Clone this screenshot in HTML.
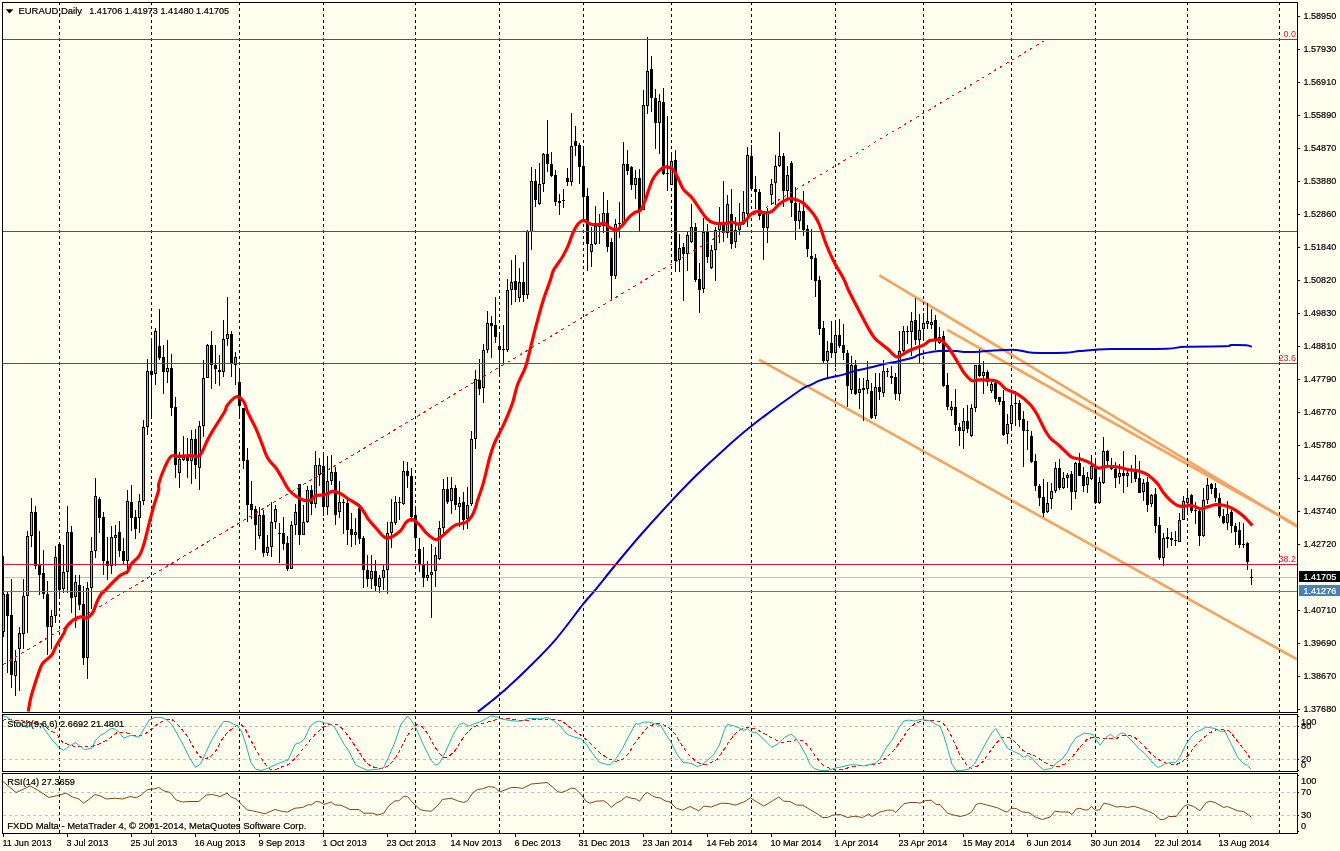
<!DOCTYPE html><html><head><meta charset="utf-8"><title>EURAUD,Daily</title><style>html,body{margin:0;padding:0;background:#FFFFF0;overflow:hidden}svg{display:block}text{font-family:"Liberation Sans",sans-serif;font-size:9.75px;fill:#000;stroke:#000;stroke-width:0.2px}</style></head><body>
<svg width="1340" height="851" viewBox="0 0 1340 851">
<rect width="1340" height="851" fill="#FFFFF0"/>
<defs><clipPath id="cm"><rect x="3" y="3" width="1294" height="709"/></clipPath><clipPath id="cs"><rect x="3" y="715" width="1294" height="56"/></clipPath><clipPath id="cr"><rect x="3" y="774" width="1294" height="59"/></clipPath></defs>
<g stroke="#F4A460" stroke-width="2.7" fill="none" clip-path="url(#cm)">
<line x1="879.4" y1="275.3" x2="1297" y2="526.5"/>
<line x1="947.2" y1="329.9" x2="1297" y2="525.5"/>
<line x1="759.1" y1="359.7" x2="1297" y2="659.4"/>
</g>
<g shape-rendering="crispEdges" stroke="#000" stroke-width="1" stroke-dasharray="3 3">
<line x1="59.5" y1="2" x2="59.5" y2="712"/>
<line x1="59.5" y1="716" x2="59.5" y2="771"/>
<line x1="59.5" y1="776" x2="59.5" y2="833"/>
<line x1="151.5" y1="2" x2="151.5" y2="712"/>
<line x1="151.5" y1="716" x2="151.5" y2="771"/>
<line x1="151.5" y1="776" x2="151.5" y2="833"/>
<line x1="239.5" y1="2" x2="239.5" y2="712"/>
<line x1="239.5" y1="716" x2="239.5" y2="771"/>
<line x1="239.5" y1="776" x2="239.5" y2="833"/>
<line x1="323.5" y1="2" x2="323.5" y2="712"/>
<line x1="323.5" y1="716" x2="323.5" y2="771"/>
<line x1="323.5" y1="776" x2="323.5" y2="833"/>
<line x1="415.5" y1="2" x2="415.5" y2="712"/>
<line x1="415.5" y1="716" x2="415.5" y2="771"/>
<line x1="415.5" y1="776" x2="415.5" y2="833"/>
<line x1="499.5" y1="2" x2="499.5" y2="712"/>
<line x1="499.5" y1="716" x2="499.5" y2="771"/>
<line x1="499.5" y1="776" x2="499.5" y2="833"/>
<line x1="583.5" y1="2" x2="583.5" y2="712"/>
<line x1="583.5" y1="716" x2="583.5" y2="771"/>
<line x1="583.5" y1="776" x2="583.5" y2="833"/>
<line x1="671.5" y1="2" x2="671.5" y2="712"/>
<line x1="671.5" y1="716" x2="671.5" y2="771"/>
<line x1="671.5" y1="776" x2="671.5" y2="833"/>
<line x1="751.5" y1="2" x2="751.5" y2="712"/>
<line x1="751.5" y1="716" x2="751.5" y2="771"/>
<line x1="751.5" y1="776" x2="751.5" y2="833"/>
<line x1="835.5" y1="2" x2="835.5" y2="712"/>
<line x1="835.5" y1="716" x2="835.5" y2="771"/>
<line x1="835.5" y1="776" x2="835.5" y2="833"/>
<line x1="923.5" y1="2" x2="923.5" y2="712"/>
<line x1="923.5" y1="716" x2="923.5" y2="771"/>
<line x1="923.5" y1="776" x2="923.5" y2="833"/>
<line x1="1011.5" y1="2" x2="1011.5" y2="712"/>
<line x1="1011.5" y1="716" x2="1011.5" y2="771"/>
<line x1="1011.5" y1="776" x2="1011.5" y2="833"/>
<line x1="1095.5" y1="2" x2="1095.5" y2="712"/>
<line x1="1095.5" y1="716" x2="1095.5" y2="771"/>
<line x1="1095.5" y1="776" x2="1095.5" y2="833"/>
<line x1="1187.5" y1="2" x2="1187.5" y2="712"/>
<line x1="1187.5" y1="716" x2="1187.5" y2="771"/>
<line x1="1187.5" y1="776" x2="1187.5" y2="833"/>
<line x1="1279.5" y1="2" x2="1279.5" y2="712"/>
<line x1="1279.5" y1="716" x2="1279.5" y2="771"/>
<line x1="1279.5" y1="776" x2="1279.5" y2="833"/>
</g>
<g clip-path="url(#cm)">
<rect x="3" y="577" width="1294" height="1" fill="#C0C0C0" shape-rendering="crispEdges"/>
<g shape-rendering="crispEdges">
<rect x="3" y="556" width="1" height="81" fill="#000"/>
<rect x="2" y="594" width="3" height="38" fill="#000"/>
<rect x="3" y="595" width="1" height="36" fill="#FFA500"/>
<rect x="7" y="592" width="1" height="81" fill="#000"/>
<rect x="6" y="594" width="3" height="22" fill="#000"/>
<rect x="11" y="579" width="1" height="109" fill="#000"/>
<rect x="10" y="615" width="3" height="60" fill="#000"/>
<rect x="15" y="650" width="1" height="46" fill="#000"/>
<rect x="14" y="661" width="3" height="15" fill="#000"/>
<rect x="15" y="662" width="1" height="13" fill="#FFA500"/>
<rect x="19" y="627" width="1" height="64" fill="#000"/>
<rect x="18" y="633" width="3" height="16" fill="#000"/>
<rect x="19" y="634" width="1" height="14" fill="#FFA500"/>
<rect x="23" y="579" width="1" height="70" fill="#000"/>
<rect x="22" y="596" width="3" height="38" fill="#000"/>
<rect x="23" y="597" width="1" height="36" fill="#FFA500"/>
<rect x="27" y="531" width="1" height="102" fill="#000"/>
<rect x="26" y="536" width="3" height="60" fill="#000"/>
<rect x="27" y="537" width="1" height="58" fill="#FFA500"/>
<rect x="31" y="498" width="1" height="49" fill="#000"/>
<rect x="30" y="512" width="3" height="24" fill="#000"/>
<rect x="31" y="513" width="1" height="22" fill="#FFA500"/>
<rect x="35" y="506" width="1" height="63" fill="#000"/>
<rect x="34" y="512" width="3" height="54" fill="#000"/>
<rect x="39" y="531" width="1" height="64" fill="#000"/>
<rect x="38" y="565" width="3" height="10" fill="#000"/>
<rect x="43" y="550" width="1" height="49" fill="#000"/>
<rect x="42" y="573" width="3" height="21" fill="#000"/>
<rect x="47" y="581" width="1" height="74" fill="#000"/>
<rect x="46" y="594" width="3" height="33" fill="#000"/>
<rect x="51" y="610" width="1" height="39" fill="#000"/>
<rect x="50" y="616" width="3" height="11" fill="#000"/>
<rect x="51" y="617" width="1" height="9" fill="#FFA500"/>
<rect x="55" y="546" width="1" height="77" fill="#000"/>
<rect x="54" y="557" width="3" height="59" fill="#000"/>
<rect x="55" y="558" width="1" height="57" fill="#FFA500"/>
<rect x="59" y="542" width="1" height="56" fill="#000"/>
<rect x="58" y="544" width="3" height="46" fill="#000"/>
<rect x="63" y="545" width="1" height="48" fill="#000"/>
<rect x="62" y="572" width="3" height="17" fill="#000"/>
<rect x="63" y="573" width="1" height="15" fill="#FFA500"/>
<rect x="67" y="506" width="1" height="87" fill="#000"/>
<rect x="66" y="532" width="3" height="40" fill="#000"/>
<rect x="67" y="533" width="1" height="38" fill="#FFA500"/>
<rect x="71" y="526" width="1" height="87" fill="#000"/>
<rect x="70" y="532" width="3" height="66" fill="#000"/>
<rect x="75" y="575" width="1" height="53" fill="#000"/>
<rect x="74" y="582" width="3" height="15" fill="#000"/>
<rect x="75" y="583" width="1" height="13" fill="#FFA500"/>
<rect x="79" y="575" width="1" height="35" fill="#000"/>
<rect x="78" y="585" width="3" height="20" fill="#000"/>
<rect x="83" y="586" width="1" height="79" fill="#000"/>
<rect x="82" y="604" width="3" height="54" fill="#000"/>
<rect x="87" y="582" width="1" height="97" fill="#000"/>
<rect x="86" y="588" width="3" height="70" fill="#000"/>
<rect x="87" y="589" width="1" height="68" fill="#FFA500"/>
<rect x="91" y="537" width="1" height="72" fill="#000"/>
<rect x="90" y="551" width="3" height="37" fill="#000"/>
<rect x="91" y="552" width="1" height="35" fill="#FFA500"/>
<rect x="95" y="478" width="1" height="80" fill="#000"/>
<rect x="94" y="496" width="3" height="55" fill="#000"/>
<rect x="95" y="497" width="1" height="53" fill="#FFA500"/>
<rect x="99" y="497" width="1" height="36" fill="#000"/>
<rect x="98" y="499" width="3" height="19" fill="#000"/>
<rect x="103" y="512" width="1" height="63" fill="#000"/>
<rect x="102" y="517" width="3" height="44" fill="#000"/>
<rect x="107" y="537" width="1" height="43" fill="#000"/>
<rect x="106" y="561" width="3" height="5" fill="#000"/>
<rect x="111" y="526" width="1" height="48" fill="#000"/>
<rect x="110" y="537" width="3" height="29" fill="#000"/>
<rect x="111" y="538" width="1" height="27" fill="#FFA500"/>
<rect x="115" y="525" width="1" height="41" fill="#000"/>
<rect x="114" y="535" width="3" height="3" fill="#000"/>
<rect x="115" y="536" width="1" height="1" fill="#FFA500"/>
<rect x="119" y="521" width="1" height="36" fill="#000"/>
<rect x="118" y="532" width="3" height="19" fill="#000"/>
<rect x="123" y="538" width="1" height="26" fill="#000"/>
<rect x="122" y="551" width="3" height="10" fill="#000"/>
<rect x="127" y="490" width="1" height="84" fill="#000"/>
<rect x="126" y="501" width="3" height="60" fill="#000"/>
<rect x="127" y="502" width="1" height="58" fill="#FFA500"/>
<rect x="131" y="485" width="1" height="46" fill="#000"/>
<rect x="130" y="502" width="3" height="16" fill="#000"/>
<rect x="135" y="510" width="1" height="29" fill="#000"/>
<rect x="134" y="517" width="3" height="12" fill="#000"/>
<rect x="139" y="494" width="1" height="39" fill="#000"/>
<rect x="138" y="501" width="3" height="17" fill="#000"/>
<rect x="139" y="502" width="1" height="15" fill="#FFA500"/>
<rect x="143" y="420" width="1" height="85" fill="#000"/>
<rect x="142" y="427" width="3" height="74" fill="#000"/>
<rect x="143" y="428" width="1" height="72" fill="#FFA500"/>
<rect x="147" y="359" width="1" height="76" fill="#000"/>
<rect x="146" y="371" width="3" height="56" fill="#000"/>
<rect x="147" y="372" width="1" height="54" fill="#FFA500"/>
<rect x="151" y="338" width="1" height="81" fill="#000"/>
<rect x="150" y="371" width="3" height="4" fill="#000"/>
<rect x="155" y="328" width="1" height="57" fill="#000"/>
<rect x="154" y="331" width="3" height="43" fill="#000"/>
<rect x="155" y="332" width="1" height="41" fill="#FFA500"/>
<rect x="159" y="309" width="1" height="51" fill="#000"/>
<rect x="158" y="346" width="3" height="12" fill="#000"/>
<rect x="163" y="345" width="1" height="49" fill="#000"/>
<rect x="162" y="357" width="3" height="15" fill="#000"/>
<rect x="167" y="340" width="1" height="43" fill="#000"/>
<rect x="166" y="368" width="3" height="4" fill="#000"/>
<rect x="167" y="369" width="1" height="2" fill="#FFA500"/>
<rect x="171" y="354" width="1" height="62" fill="#000"/>
<rect x="170" y="368" width="3" height="40" fill="#000"/>
<rect x="175" y="397" width="1" height="81" fill="#000"/>
<rect x="174" y="407" width="3" height="58" fill="#000"/>
<rect x="179" y="452" width="1" height="36" fill="#000"/>
<rect x="178" y="459" width="3" height="14" fill="#000"/>
<rect x="179" y="460" width="1" height="12" fill="#FFA500"/>
<rect x="183" y="436" width="1" height="25" fill="#000"/>
<rect x="182" y="457" width="3" height="3" fill="#000"/>
<rect x="183" y="458" width="1" height="1" fill="#FFA500"/>
<rect x="187" y="438" width="1" height="40" fill="#000"/>
<rect x="186" y="455" width="3" height="6" fill="#000"/>
<rect x="191" y="430" width="1" height="54" fill="#000"/>
<rect x="190" y="439" width="3" height="22" fill="#000"/>
<rect x="191" y="440" width="1" height="20" fill="#FFA500"/>
<rect x="195" y="429" width="1" height="50" fill="#000"/>
<rect x="194" y="439" width="3" height="26" fill="#000"/>
<rect x="199" y="421" width="1" height="69" fill="#000"/>
<rect x="198" y="426" width="3" height="42" fill="#000"/>
<rect x="199" y="427" width="1" height="40" fill="#FFA500"/>
<rect x="203" y="360" width="1" height="77" fill="#000"/>
<rect x="202" y="378" width="3" height="48" fill="#000"/>
<rect x="203" y="379" width="1" height="46" fill="#FFA500"/>
<rect x="207" y="344" width="1" height="34" fill="#000"/>
<rect x="206" y="345" width="3" height="33" fill="#000"/>
<rect x="207" y="346" width="1" height="31" fill="#FFA500"/>
<rect x="211" y="331" width="1" height="58" fill="#000"/>
<rect x="210" y="345" width="3" height="20" fill="#000"/>
<rect x="215" y="345" width="1" height="39" fill="#000"/>
<rect x="214" y="365" width="3" height="4" fill="#000"/>
<rect x="219" y="355" width="1" height="31" fill="#000"/>
<rect x="218" y="370" width="3" height="2" fill="#000"/>
<rect x="223" y="320" width="1" height="57" fill="#000"/>
<rect x="222" y="339" width="3" height="33" fill="#000"/>
<rect x="223" y="340" width="1" height="31" fill="#FFA500"/>
<rect x="227" y="297" width="1" height="49" fill="#000"/>
<rect x="226" y="334" width="3" height="5" fill="#000"/>
<rect x="227" y="335" width="1" height="3" fill="#FFA500"/>
<rect x="231" y="331" width="1" height="46" fill="#000"/>
<rect x="230" y="334" width="3" height="30" fill="#000"/>
<rect x="235" y="352" width="1" height="33" fill="#000"/>
<rect x="234" y="357" width="3" height="8" fill="#000"/>
<rect x="235" y="358" width="1" height="6" fill="#FFA500"/>
<rect x="239" y="368" width="1" height="48" fill="#000"/>
<rect x="238" y="382" width="3" height="24" fill="#000"/>
<rect x="243" y="408" width="1" height="61" fill="#000"/>
<rect x="242" y="408" width="3" height="53" fill="#000"/>
<rect x="247" y="448" width="1" height="74" fill="#000"/>
<rect x="246" y="460" width="3" height="45" fill="#000"/>
<rect x="251" y="481" width="1" height="38" fill="#000"/>
<rect x="250" y="504" width="3" height="6" fill="#000"/>
<rect x="255" y="506" width="1" height="44" fill="#000"/>
<rect x="254" y="509" width="3" height="16" fill="#000"/>
<rect x="259" y="507" width="1" height="32" fill="#000"/>
<rect x="258" y="515" width="3" height="21" fill="#000"/>
<rect x="259" y="516" width="1" height="19" fill="#FFA500"/>
<rect x="263" y="510" width="1" height="47" fill="#000"/>
<rect x="262" y="515" width="3" height="38" fill="#000"/>
<rect x="267" y="535" width="1" height="21" fill="#000"/>
<rect x="266" y="547" width="3" height="6" fill="#000"/>
<rect x="267" y="548" width="1" height="4" fill="#FFA500"/>
<rect x="271" y="502" width="1" height="55" fill="#000"/>
<rect x="270" y="522" width="3" height="25" fill="#000"/>
<rect x="271" y="523" width="1" height="23" fill="#FFA500"/>
<rect x="275" y="505" width="1" height="24" fill="#000"/>
<rect x="274" y="509" width="3" height="13" fill="#000"/>
<rect x="275" y="510" width="1" height="11" fill="#FFA500"/>
<rect x="279" y="523" width="1" height="40" fill="#000"/>
<rect x="278" y="533" width="3" height="1" fill="#000"/>
<rect x="283" y="517" width="1" height="33" fill="#000"/>
<rect x="282" y="533" width="3" height="11" fill="#000"/>
<rect x="287" y="536" width="1" height="35" fill="#000"/>
<rect x="286" y="543" width="3" height="26" fill="#000"/>
<rect x="291" y="521" width="1" height="48" fill="#000"/>
<rect x="290" y="525" width="3" height="44" fill="#000"/>
<rect x="291" y="526" width="1" height="42" fill="#FFA500"/>
<rect x="295" y="504" width="1" height="31" fill="#000"/>
<rect x="294" y="512" width="3" height="13" fill="#000"/>
<rect x="295" y="513" width="1" height="11" fill="#FFA500"/>
<rect x="299" y="484" width="1" height="61" fill="#000"/>
<rect x="298" y="484" width="3" height="51" fill="#000"/>
<rect x="303" y="505" width="1" height="30" fill="#000"/>
<rect x="302" y="522" width="3" height="13" fill="#000"/>
<rect x="303" y="523" width="1" height="11" fill="#FFA500"/>
<rect x="307" y="486" width="1" height="37" fill="#000"/>
<rect x="306" y="490" width="3" height="32" fill="#000"/>
<rect x="307" y="491" width="1" height="30" fill="#FFA500"/>
<rect x="311" y="485" width="1" height="30" fill="#000"/>
<rect x="310" y="490" width="3" height="14" fill="#000"/>
<rect x="315" y="451" width="1" height="57" fill="#000"/>
<rect x="314" y="465" width="3" height="39" fill="#000"/>
<rect x="315" y="466" width="1" height="37" fill="#FFA500"/>
<rect x="319" y="458" width="1" height="28" fill="#000"/>
<rect x="318" y="465" width="3" height="10" fill="#000"/>
<rect x="319" y="466" width="1" height="8" fill="#FFA500"/>
<rect x="323" y="453" width="1" height="63" fill="#000"/>
<rect x="322" y="466" width="3" height="41" fill="#000"/>
<rect x="327" y="456" width="1" height="59" fill="#000"/>
<rect x="326" y="481" width="3" height="26" fill="#000"/>
<rect x="327" y="482" width="1" height="24" fill="#FFA500"/>
<rect x="331" y="455" width="1" height="30" fill="#000"/>
<rect x="330" y="472" width="3" height="9" fill="#000"/>
<rect x="331" y="473" width="1" height="7" fill="#FFA500"/>
<rect x="335" y="467" width="1" height="58" fill="#000"/>
<rect x="334" y="472" width="3" height="43" fill="#000"/>
<rect x="339" y="481" width="1" height="37" fill="#000"/>
<rect x="338" y="502" width="3" height="10" fill="#000"/>
<rect x="339" y="503" width="1" height="8" fill="#FFA500"/>
<rect x="343" y="499" width="1" height="35" fill="#000"/>
<rect x="342" y="502" width="3" height="1" fill="#000"/>
<rect x="347" y="500" width="1" height="45" fill="#000"/>
<rect x="346" y="503" width="3" height="27" fill="#000"/>
<rect x="351" y="513" width="1" height="34" fill="#000"/>
<rect x="350" y="529" width="3" height="6" fill="#000"/>
<rect x="355" y="518" width="1" height="27" fill="#000"/>
<rect x="354" y="532" width="3" height="3" fill="#000"/>
<rect x="355" y="533" width="1" height="1" fill="#FFA500"/>
<rect x="359" y="504" width="1" height="40" fill="#000"/>
<rect x="358" y="508" width="3" height="31" fill="#000"/>
<rect x="363" y="536" width="1" height="52" fill="#000"/>
<rect x="362" y="538" width="3" height="32" fill="#000"/>
<rect x="367" y="555" width="1" height="32" fill="#000"/>
<rect x="366" y="570" width="3" height="9" fill="#000"/>
<rect x="371" y="555" width="1" height="34" fill="#000"/>
<rect x="370" y="571" width="3" height="8" fill="#000"/>
<rect x="371" y="572" width="1" height="6" fill="#FFA500"/>
<rect x="375" y="560" width="1" height="31" fill="#000"/>
<rect x="374" y="571" width="3" height="15" fill="#000"/>
<rect x="379" y="575" width="1" height="18" fill="#000"/>
<rect x="378" y="578" width="3" height="9" fill="#000"/>
<rect x="379" y="579" width="1" height="7" fill="#FFA500"/>
<rect x="383" y="565" width="1" height="25" fill="#000"/>
<rect x="382" y="570" width="3" height="8" fill="#000"/>
<rect x="383" y="571" width="1" height="6" fill="#FFA500"/>
<rect x="387" y="522" width="1" height="72" fill="#000"/>
<rect x="386" y="533" width="3" height="37" fill="#000"/>
<rect x="387" y="534" width="1" height="35" fill="#FFA500"/>
<rect x="391" y="499" width="1" height="49" fill="#000"/>
<rect x="390" y="522" width="3" height="11" fill="#000"/>
<rect x="391" y="523" width="1" height="9" fill="#FFA500"/>
<rect x="395" y="496" width="1" height="29" fill="#000"/>
<rect x="394" y="502" width="3" height="21" fill="#000"/>
<rect x="395" y="503" width="1" height="19" fill="#FFA500"/>
<rect x="399" y="497" width="1" height="23" fill="#000"/>
<rect x="398" y="502" width="3" height="1" fill="#000"/>
<rect x="403" y="461" width="1" height="44" fill="#000"/>
<rect x="402" y="471" width="3" height="33" fill="#000"/>
<rect x="403" y="472" width="1" height="31" fill="#FFA500"/>
<rect x="407" y="462" width="1" height="26" fill="#000"/>
<rect x="406" y="471" width="3" height="5" fill="#000"/>
<rect x="411" y="468" width="1" height="54" fill="#000"/>
<rect x="410" y="476" width="3" height="41" fill="#000"/>
<rect x="415" y="507" width="1" height="44" fill="#000"/>
<rect x="414" y="515" width="3" height="23" fill="#000"/>
<rect x="419" y="538" width="1" height="34" fill="#000"/>
<rect x="418" y="549" width="3" height="16" fill="#000"/>
<rect x="423" y="547" width="1" height="40" fill="#000"/>
<rect x="422" y="564" width="3" height="14" fill="#000"/>
<rect x="427" y="561" width="1" height="20" fill="#000"/>
<rect x="426" y="575" width="3" height="3" fill="#000"/>
<rect x="427" y="576" width="1" height="1" fill="#FFA500"/>
<rect x="431" y="544" width="1" height="74" fill="#000"/>
<rect x="430" y="572" width="3" height="3" fill="#000"/>
<rect x="431" y="573" width="1" height="1" fill="#FFA500"/>
<rect x="435" y="547" width="1" height="40" fill="#000"/>
<rect x="434" y="555" width="3" height="16" fill="#000"/>
<rect x="435" y="556" width="1" height="14" fill="#FFA500"/>
<rect x="439" y="521" width="1" height="39" fill="#000"/>
<rect x="438" y="528" width="3" height="31" fill="#000"/>
<rect x="439" y="529" width="1" height="29" fill="#FFA500"/>
<rect x="443" y="479" width="1" height="55" fill="#000"/>
<rect x="442" y="489" width="3" height="39" fill="#000"/>
<rect x="443" y="490" width="1" height="37" fill="#FFA500"/>
<rect x="447" y="477" width="1" height="27" fill="#000"/>
<rect x="446" y="489" width="3" height="13" fill="#000"/>
<rect x="451" y="477" width="1" height="37" fill="#000"/>
<rect x="450" y="488" width="3" height="13" fill="#000"/>
<rect x="451" y="489" width="1" height="11" fill="#FFA500"/>
<rect x="455" y="485" width="1" height="25" fill="#000"/>
<rect x="454" y="488" width="3" height="17" fill="#000"/>
<rect x="459" y="497" width="1" height="30" fill="#000"/>
<rect x="458" y="503" width="3" height="4" fill="#000"/>
<rect x="459" y="504" width="1" height="2" fill="#FFA500"/>
<rect x="463" y="492" width="1" height="38" fill="#000"/>
<rect x="462" y="502" width="3" height="18" fill="#000"/>
<rect x="467" y="487" width="1" height="42" fill="#000"/>
<rect x="466" y="505" width="3" height="14" fill="#000"/>
<rect x="467" y="506" width="1" height="12" fill="#FFA500"/>
<rect x="471" y="431" width="1" height="75" fill="#000"/>
<rect x="470" y="439" width="3" height="65" fill="#000"/>
<rect x="471" y="440" width="1" height="63" fill="#FFA500"/>
<rect x="475" y="370" width="1" height="79" fill="#000"/>
<rect x="474" y="379" width="3" height="60" fill="#000"/>
<rect x="475" y="380" width="1" height="58" fill="#FFA500"/>
<rect x="479" y="359" width="1" height="36" fill="#000"/>
<rect x="478" y="380" width="3" height="9" fill="#000"/>
<rect x="483" y="344" width="1" height="59" fill="#000"/>
<rect x="482" y="350" width="3" height="38" fill="#000"/>
<rect x="483" y="351" width="1" height="36" fill="#FFA500"/>
<rect x="487" y="311" width="1" height="42" fill="#000"/>
<rect x="486" y="323" width="3" height="27" fill="#000"/>
<rect x="487" y="324" width="1" height="25" fill="#FFA500"/>
<rect x="491" y="316" width="1" height="42" fill="#000"/>
<rect x="490" y="323" width="3" height="3" fill="#000"/>
<rect x="495" y="297" width="1" height="46" fill="#000"/>
<rect x="494" y="325" width="3" height="12" fill="#000"/>
<rect x="499" y="333" width="1" height="43" fill="#000"/>
<rect x="498" y="346" width="3" height="4" fill="#000"/>
<rect x="503" y="325" width="1" height="38" fill="#000"/>
<rect x="502" y="349" width="3" height="1" fill="#000"/>
<rect x="507" y="279" width="1" height="73" fill="#000"/>
<rect x="506" y="290" width="3" height="60" fill="#000"/>
<rect x="507" y="291" width="1" height="58" fill="#FFA500"/>
<rect x="511" y="260" width="1" height="45" fill="#000"/>
<rect x="510" y="282" width="3" height="8" fill="#000"/>
<rect x="511" y="283" width="1" height="6" fill="#FFA500"/>
<rect x="515" y="255" width="1" height="47" fill="#000"/>
<rect x="514" y="281" width="3" height="9" fill="#000"/>
<rect x="519" y="268" width="1" height="34" fill="#000"/>
<rect x="518" y="282" width="3" height="16" fill="#000"/>
<rect x="519" y="283" width="1" height="14" fill="#FFA500"/>
<rect x="523" y="262" width="1" height="40" fill="#000"/>
<rect x="522" y="282" width="3" height="13" fill="#000"/>
<rect x="527" y="230" width="1" height="69" fill="#000"/>
<rect x="526" y="231" width="3" height="64" fill="#000"/>
<rect x="527" y="232" width="1" height="62" fill="#FFA500"/>
<rect x="531" y="167" width="1" height="83" fill="#000"/>
<rect x="530" y="181" width="3" height="51" fill="#000"/>
<rect x="531" y="182" width="1" height="49" fill="#FFA500"/>
<rect x="535" y="169" width="1" height="38" fill="#000"/>
<rect x="534" y="181" width="3" height="19" fill="#000"/>
<rect x="539" y="163" width="1" height="42" fill="#000"/>
<rect x="538" y="184" width="3" height="20" fill="#000"/>
<rect x="539" y="185" width="1" height="18" fill="#FFA500"/>
<rect x="543" y="153" width="1" height="39" fill="#000"/>
<rect x="542" y="154" width="3" height="30" fill="#000"/>
<rect x="543" y="155" width="1" height="28" fill="#FFA500"/>
<rect x="547" y="120" width="1" height="52" fill="#000"/>
<rect x="546" y="154" width="3" height="10" fill="#000"/>
<rect x="551" y="152" width="1" height="25" fill="#000"/>
<rect x="550" y="164" width="3" height="12" fill="#000"/>
<rect x="555" y="170" width="1" height="36" fill="#000"/>
<rect x="554" y="175" width="3" height="27" fill="#000"/>
<rect x="559" y="194" width="1" height="21" fill="#000"/>
<rect x="558" y="201" width="3" height="2" fill="#000"/>
<rect x="563" y="189" width="1" height="19" fill="#000"/>
<rect x="562" y="200" width="3" height="1" fill="#000"/>
<rect x="567" y="168" width="1" height="18" fill="#000"/>
<rect x="566" y="178" width="3" height="4" fill="#000"/>
<rect x="571" y="113" width="1" height="73" fill="#000"/>
<rect x="570" y="146" width="3" height="36" fill="#000"/>
<rect x="571" y="147" width="1" height="34" fill="#FFA500"/>
<rect x="575" y="126" width="1" height="30" fill="#000"/>
<rect x="574" y="141" width="3" height="5" fill="#000"/>
<rect x="579" y="143" width="1" height="41" fill="#000"/>
<rect x="578" y="145" width="3" height="22" fill="#000"/>
<rect x="583" y="146" width="1" height="74" fill="#000"/>
<rect x="582" y="166" width="3" height="31" fill="#000"/>
<rect x="587" y="188" width="1" height="83" fill="#000"/>
<rect x="586" y="196" width="3" height="48" fill="#000"/>
<rect x="591" y="227" width="1" height="40" fill="#000"/>
<rect x="590" y="244" width="3" height="8" fill="#000"/>
<rect x="591" y="245" width="1" height="6" fill="#FFA500"/>
<rect x="595" y="206" width="1" height="39" fill="#000"/>
<rect x="594" y="226" width="3" height="18" fill="#000"/>
<rect x="595" y="227" width="1" height="16" fill="#FFA500"/>
<rect x="599" y="214" width="1" height="30" fill="#000"/>
<rect x="598" y="226" width="3" height="1" fill="#000"/>
<rect x="603" y="192" width="1" height="41" fill="#000"/>
<rect x="602" y="213" width="3" height="13" fill="#000"/>
<rect x="603" y="214" width="1" height="11" fill="#FFA500"/>
<rect x="607" y="200" width="1" height="52" fill="#000"/>
<rect x="606" y="213" width="3" height="34" fill="#000"/>
<rect x="611" y="238" width="1" height="61" fill="#000"/>
<rect x="610" y="242" width="3" height="34" fill="#000"/>
<rect x="615" y="219" width="1" height="60" fill="#000"/>
<rect x="614" y="224" width="3" height="52" fill="#000"/>
<rect x="615" y="225" width="1" height="50" fill="#FFA500"/>
<rect x="619" y="202" width="1" height="36" fill="#000"/>
<rect x="618" y="223" width="3" height="1" fill="#000"/>
<rect x="623" y="142" width="1" height="82" fill="#000"/>
<rect x="622" y="164" width="3" height="60" fill="#000"/>
<rect x="623" y="165" width="1" height="58" fill="#FFA500"/>
<rect x="627" y="150" width="1" height="25" fill="#000"/>
<rect x="626" y="164" width="3" height="7" fill="#000"/>
<rect x="631" y="166" width="1" height="24" fill="#000"/>
<rect x="630" y="167" width="3" height="18" fill="#000"/>
<rect x="635" y="170" width="1" height="29" fill="#000"/>
<rect x="634" y="178" width="3" height="7" fill="#000"/>
<rect x="635" y="179" width="1" height="5" fill="#FFA500"/>
<rect x="639" y="169" width="1" height="62" fill="#000"/>
<rect x="638" y="178" width="3" height="32" fill="#000"/>
<rect x="643" y="90" width="1" height="120" fill="#000"/>
<rect x="642" y="105" width="3" height="105" fill="#000"/>
<rect x="643" y="106" width="1" height="103" fill="#FFA500"/>
<rect x="647" y="37" width="1" height="77" fill="#000"/>
<rect x="646" y="71" width="3" height="35" fill="#000"/>
<rect x="647" y="72" width="1" height="33" fill="#FFA500"/>
<rect x="651" y="56" width="1" height="56" fill="#000"/>
<rect x="650" y="69" width="3" height="29" fill="#000"/>
<rect x="655" y="89" width="1" height="60" fill="#000"/>
<rect x="654" y="98" width="3" height="25" fill="#000"/>
<rect x="659" y="94" width="1" height="60" fill="#000"/>
<rect x="658" y="101" width="3" height="22" fill="#000"/>
<rect x="659" y="102" width="1" height="20" fill="#FFA500"/>
<rect x="663" y="88" width="1" height="87" fill="#000"/>
<rect x="662" y="102" width="3" height="72" fill="#000"/>
<rect x="667" y="116" width="1" height="75" fill="#000"/>
<rect x="666" y="173" width="3" height="1" fill="#000"/>
<rect x="671" y="152" width="1" height="33" fill="#000"/>
<rect x="670" y="161" width="3" height="24" fill="#000"/>
<rect x="671" y="162" width="1" height="22" fill="#FFA500"/>
<rect x="675" y="150" width="1" height="122" fill="#000"/>
<rect x="674" y="160" width="3" height="101" fill="#000"/>
<rect x="679" y="234" width="1" height="38" fill="#000"/>
<rect x="678" y="248" width="3" height="12" fill="#000"/>
<rect x="679" y="249" width="1" height="10" fill="#FFA500"/>
<rect x="683" y="243" width="1" height="58" fill="#000"/>
<rect x="682" y="247" width="3" height="7" fill="#000"/>
<rect x="687" y="232" width="1" height="39" fill="#000"/>
<rect x="686" y="235" width="3" height="19" fill="#000"/>
<rect x="687" y="236" width="1" height="17" fill="#FFA500"/>
<rect x="691" y="204" width="1" height="39" fill="#000"/>
<rect x="690" y="227" width="3" height="15" fill="#000"/>
<rect x="691" y="228" width="1" height="13" fill="#FFA500"/>
<rect x="695" y="223" width="1" height="59" fill="#000"/>
<rect x="694" y="227" width="3" height="53" fill="#000"/>
<rect x="699" y="263" width="1" height="50" fill="#000"/>
<rect x="698" y="279" width="3" height="11" fill="#000"/>
<rect x="703" y="218" width="1" height="75" fill="#000"/>
<rect x="702" y="232" width="3" height="57" fill="#000"/>
<rect x="703" y="233" width="1" height="55" fill="#FFA500"/>
<rect x="707" y="224" width="1" height="39" fill="#000"/>
<rect x="706" y="232" width="3" height="25" fill="#000"/>
<rect x="711" y="245" width="1" height="24" fill="#000"/>
<rect x="710" y="250" width="3" height="18" fill="#000"/>
<rect x="711" y="251" width="1" height="16" fill="#FFA500"/>
<rect x="715" y="227" width="1" height="54" fill="#000"/>
<rect x="714" y="230" width="3" height="20" fill="#000"/>
<rect x="715" y="231" width="1" height="18" fill="#FFA500"/>
<rect x="719" y="207" width="1" height="36" fill="#000"/>
<rect x="718" y="223" width="3" height="7" fill="#000"/>
<rect x="719" y="224" width="1" height="5" fill="#FFA500"/>
<rect x="723" y="181" width="1" height="61" fill="#000"/>
<rect x="722" y="223" width="3" height="10" fill="#000"/>
<rect x="727" y="195" width="1" height="43" fill="#000"/>
<rect x="726" y="204" width="3" height="29" fill="#000"/>
<rect x="727" y="205" width="1" height="27" fill="#FFA500"/>
<rect x="731" y="189" width="1" height="60" fill="#000"/>
<rect x="730" y="214" width="3" height="30" fill="#000"/>
<rect x="735" y="217" width="1" height="31" fill="#000"/>
<rect x="734" y="230" width="3" height="12" fill="#000"/>
<rect x="735" y="231" width="1" height="10" fill="#FFA500"/>
<rect x="739" y="203" width="1" height="32" fill="#000"/>
<rect x="738" y="223" width="3" height="7" fill="#000"/>
<rect x="739" y="224" width="1" height="5" fill="#FFA500"/>
<rect x="743" y="191" width="1" height="34" fill="#000"/>
<rect x="742" y="212" width="3" height="12" fill="#000"/>
<rect x="743" y="213" width="1" height="10" fill="#FFA500"/>
<rect x="747" y="147" width="1" height="80" fill="#000"/>
<rect x="746" y="155" width="3" height="59" fill="#000"/>
<rect x="747" y="156" width="1" height="57" fill="#FFA500"/>
<rect x="751" y="145" width="1" height="45" fill="#000"/>
<rect x="750" y="156" width="3" height="33" fill="#000"/>
<rect x="755" y="176" width="1" height="33" fill="#000"/>
<rect x="754" y="189" width="3" height="3" fill="#000"/>
<rect x="759" y="189" width="1" height="31" fill="#000"/>
<rect x="758" y="192" width="3" height="24" fill="#000"/>
<rect x="763" y="211" width="1" height="49" fill="#000"/>
<rect x="762" y="211" width="3" height="17" fill="#000"/>
<rect x="767" y="208" width="1" height="35" fill="#000"/>
<rect x="766" y="212" width="3" height="16" fill="#000"/>
<rect x="767" y="213" width="1" height="14" fill="#FFA500"/>
<rect x="771" y="179" width="1" height="26" fill="#000"/>
<rect x="770" y="184" width="3" height="11" fill="#000"/>
<rect x="771" y="185" width="1" height="9" fill="#FFA500"/>
<rect x="775" y="155" width="1" height="50" fill="#000"/>
<rect x="774" y="166" width="3" height="17" fill="#000"/>
<rect x="775" y="167" width="1" height="15" fill="#FFA500"/>
<rect x="779" y="132" width="1" height="35" fill="#000"/>
<rect x="778" y="156" width="3" height="10" fill="#000"/>
<rect x="779" y="157" width="1" height="8" fill="#FFA500"/>
<rect x="783" y="153" width="1" height="54" fill="#000"/>
<rect x="782" y="156" width="3" height="35" fill="#000"/>
<rect x="787" y="166" width="1" height="33" fill="#000"/>
<rect x="786" y="175" width="3" height="16" fill="#000"/>
<rect x="787" y="176" width="1" height="14" fill="#FFA500"/>
<rect x="791" y="161" width="1" height="56" fill="#000"/>
<rect x="790" y="163" width="3" height="40" fill="#000"/>
<rect x="795" y="187" width="1" height="53" fill="#000"/>
<rect x="794" y="203" width="3" height="18" fill="#000"/>
<rect x="799" y="203" width="1" height="26" fill="#000"/>
<rect x="798" y="211" width="3" height="10" fill="#000"/>
<rect x="799" y="212" width="1" height="8" fill="#FFA500"/>
<rect x="803" y="191" width="1" height="45" fill="#000"/>
<rect x="802" y="211" width="3" height="19" fill="#000"/>
<rect x="807" y="225" width="1" height="32" fill="#000"/>
<rect x="806" y="229" width="3" height="20" fill="#000"/>
<rect x="811" y="229" width="1" height="51" fill="#000"/>
<rect x="810" y="256" width="3" height="3" fill="#000"/>
<rect x="815" y="254" width="1" height="43" fill="#000"/>
<rect x="814" y="258" width="3" height="23" fill="#000"/>
<rect x="819" y="276" width="1" height="59" fill="#000"/>
<rect x="818" y="280" width="3" height="49" fill="#000"/>
<rect x="823" y="321" width="1" height="42" fill="#000"/>
<rect x="822" y="328" width="3" height="33" fill="#000"/>
<rect x="827" y="341" width="1" height="37" fill="#000"/>
<rect x="826" y="351" width="3" height="10" fill="#000"/>
<rect x="827" y="352" width="1" height="8" fill="#FFA500"/>
<rect x="831" y="321" width="1" height="37" fill="#000"/>
<rect x="830" y="343" width="3" height="10" fill="#000"/>
<rect x="835" y="320" width="1" height="47" fill="#000"/>
<rect x="834" y="335" width="3" height="18" fill="#000"/>
<rect x="835" y="336" width="1" height="16" fill="#FFA500"/>
<rect x="839" y="319" width="1" height="29" fill="#000"/>
<rect x="838" y="335" width="3" height="11" fill="#000"/>
<rect x="843" y="324" width="1" height="36" fill="#000"/>
<rect x="842" y="345" width="3" height="8" fill="#000"/>
<rect x="847" y="350" width="1" height="57" fill="#000"/>
<rect x="846" y="353" width="3" height="33" fill="#000"/>
<rect x="851" y="356" width="1" height="38" fill="#000"/>
<rect x="850" y="365" width="3" height="25" fill="#000"/>
<rect x="851" y="366" width="1" height="23" fill="#FFA500"/>
<rect x="855" y="360" width="1" height="35" fill="#000"/>
<rect x="854" y="365" width="3" height="29" fill="#000"/>
<rect x="859" y="378" width="1" height="31" fill="#000"/>
<rect x="858" y="389" width="3" height="4" fill="#000"/>
<rect x="859" y="390" width="1" height="2" fill="#FFA500"/>
<rect x="863" y="378" width="1" height="43" fill="#000"/>
<rect x="862" y="388" width="3" height="2" fill="#000"/>
<rect x="867" y="361" width="1" height="33" fill="#000"/>
<rect x="866" y="380" width="3" height="9" fill="#000"/>
<rect x="867" y="381" width="1" height="7" fill="#FFA500"/>
<rect x="871" y="383" width="1" height="36" fill="#000"/>
<rect x="870" y="391" width="3" height="27" fill="#000"/>
<rect x="875" y="373" width="1" height="46" fill="#000"/>
<rect x="874" y="387" width="3" height="29" fill="#000"/>
<rect x="875" y="388" width="1" height="27" fill="#FFA500"/>
<rect x="879" y="373" width="1" height="27" fill="#000"/>
<rect x="878" y="387" width="3" height="5" fill="#000"/>
<rect x="883" y="360" width="1" height="37" fill="#000"/>
<rect x="882" y="371" width="3" height="22" fill="#000"/>
<rect x="883" y="372" width="1" height="20" fill="#FFA500"/>
<rect x="887" y="368" width="1" height="9" fill="#000"/>
<rect x="886" y="371" width="3" height="1" fill="#000"/>
<rect x="891" y="366" width="1" height="18" fill="#000"/>
<rect x="890" y="376" width="3" height="2" fill="#000"/>
<rect x="895" y="373" width="1" height="27" fill="#000"/>
<rect x="894" y="377" width="3" height="17" fill="#000"/>
<rect x="899" y="331" width="1" height="70" fill="#000"/>
<rect x="898" y="351" width="3" height="43" fill="#000"/>
<rect x="899" y="352" width="1" height="41" fill="#FFA500"/>
<rect x="903" y="326" width="1" height="26" fill="#000"/>
<rect x="902" y="331" width="3" height="20" fill="#000"/>
<rect x="903" y="332" width="1" height="18" fill="#FFA500"/>
<rect x="907" y="326" width="1" height="18" fill="#000"/>
<rect x="906" y="331" width="3" height="1" fill="#000"/>
<rect x="911" y="312" width="1" height="44" fill="#000"/>
<rect x="910" y="321" width="3" height="11" fill="#000"/>
<rect x="911" y="322" width="1" height="9" fill="#FFA500"/>
<rect x="915" y="298" width="1" height="47" fill="#000"/>
<rect x="914" y="320" width="3" height="20" fill="#000"/>
<rect x="919" y="314" width="1" height="50" fill="#000"/>
<rect x="918" y="330" width="3" height="10" fill="#000"/>
<rect x="919" y="331" width="1" height="8" fill="#FFA500"/>
<rect x="923" y="313" width="1" height="27" fill="#000"/>
<rect x="922" y="323" width="3" height="6" fill="#000"/>
<rect x="923" y="324" width="1" height="4" fill="#FFA500"/>
<rect x="927" y="303" width="1" height="26" fill="#000"/>
<rect x="926" y="321" width="3" height="3" fill="#000"/>
<rect x="927" y="322" width="1" height="1" fill="#FFA500"/>
<rect x="931" y="309" width="1" height="20" fill="#000"/>
<rect x="930" y="322" width="3" height="3" fill="#000"/>
<rect x="931" y="323" width="1" height="1" fill="#FFA500"/>
<rect x="935" y="315" width="1" height="35" fill="#000"/>
<rect x="934" y="320" width="3" height="19" fill="#000"/>
<rect x="939" y="327" width="1" height="17" fill="#000"/>
<rect x="938" y="337" width="3" height="6" fill="#000"/>
<rect x="939" y="338" width="1" height="4" fill="#FFA500"/>
<rect x="943" y="331" width="1" height="56" fill="#000"/>
<rect x="942" y="336" width="3" height="50" fill="#000"/>
<rect x="947" y="373" width="1" height="37" fill="#000"/>
<rect x="946" y="385" width="3" height="22" fill="#000"/>
<rect x="951" y="401" width="1" height="15" fill="#000"/>
<rect x="950" y="407" width="3" height="3" fill="#000"/>
<rect x="951" y="408" width="1" height="1" fill="#FFA500"/>
<rect x="955" y="389" width="1" height="42" fill="#000"/>
<rect x="954" y="407" width="3" height="18" fill="#000"/>
<rect x="959" y="423" width="1" height="23" fill="#000"/>
<rect x="958" y="427" width="3" height="4" fill="#000"/>
<rect x="963" y="408" width="1" height="41" fill="#000"/>
<rect x="962" y="421" width="3" height="10" fill="#000"/>
<rect x="963" y="422" width="1" height="8" fill="#FFA500"/>
<rect x="967" y="405" width="1" height="28" fill="#000"/>
<rect x="966" y="421" width="3" height="8" fill="#000"/>
<rect x="971" y="404" width="1" height="33" fill="#000"/>
<rect x="970" y="408" width="3" height="28" fill="#000"/>
<rect x="971" y="409" width="1" height="26" fill="#FFA500"/>
<rect x="975" y="365" width="1" height="47" fill="#000"/>
<rect x="974" y="365" width="3" height="43" fill="#000"/>
<rect x="975" y="366" width="1" height="41" fill="#FFA500"/>
<rect x="979" y="349" width="1" height="28" fill="#000"/>
<rect x="978" y="365" width="3" height="11" fill="#000"/>
<rect x="983" y="361" width="1" height="33" fill="#000"/>
<rect x="982" y="372" width="3" height="4" fill="#000"/>
<rect x="983" y="373" width="1" height="2" fill="#FFA500"/>
<rect x="987" y="370" width="1" height="16" fill="#000"/>
<rect x="986" y="372" width="3" height="10" fill="#000"/>
<rect x="991" y="382" width="1" height="11" fill="#000"/>
<rect x="990" y="384" width="3" height="7" fill="#000"/>
<rect x="991" y="385" width="1" height="5" fill="#FFA500"/>
<rect x="995" y="382" width="1" height="20" fill="#000"/>
<rect x="994" y="383" width="3" height="16" fill="#000"/>
<rect x="999" y="397" width="1" height="8" fill="#000"/>
<rect x="998" y="397" width="3" height="5" fill="#000"/>
<rect x="1003" y="390" width="1" height="46" fill="#000"/>
<rect x="1002" y="401" width="3" height="34" fill="#000"/>
<rect x="1007" y="414" width="1" height="30" fill="#000"/>
<rect x="1006" y="424" width="3" height="10" fill="#000"/>
<rect x="1007" y="425" width="1" height="8" fill="#FFA500"/>
<rect x="1011" y="391" width="1" height="40" fill="#000"/>
<rect x="1010" y="405" width="3" height="19" fill="#000"/>
<rect x="1011" y="406" width="1" height="17" fill="#FFA500"/>
<rect x="1015" y="391" width="1" height="35" fill="#000"/>
<rect x="1014" y="403" width="3" height="1" fill="#000"/>
<rect x="1019" y="400" width="1" height="27" fill="#000"/>
<rect x="1018" y="403" width="3" height="17" fill="#000"/>
<rect x="1023" y="411" width="1" height="56" fill="#000"/>
<rect x="1022" y="419" width="3" height="12" fill="#000"/>
<rect x="1027" y="421" width="1" height="29" fill="#000"/>
<rect x="1026" y="430" width="3" height="1" fill="#000"/>
<rect x="1031" y="431" width="1" height="32" fill="#000"/>
<rect x="1030" y="436" width="3" height="26" fill="#000"/>
<rect x="1035" y="454" width="1" height="37" fill="#000"/>
<rect x="1034" y="461" width="3" height="25" fill="#000"/>
<rect x="1039" y="484" width="1" height="22" fill="#000"/>
<rect x="1038" y="486" width="3" height="12" fill="#000"/>
<rect x="1043" y="479" width="1" height="38" fill="#000"/>
<rect x="1042" y="497" width="3" height="16" fill="#000"/>
<rect x="1047" y="482" width="1" height="31" fill="#000"/>
<rect x="1046" y="503" width="3" height="9" fill="#000"/>
<rect x="1047" y="504" width="1" height="7" fill="#FFA500"/>
<rect x="1051" y="483" width="1" height="26" fill="#000"/>
<rect x="1050" y="491" width="3" height="8" fill="#000"/>
<rect x="1051" y="492" width="1" height="6" fill="#FFA500"/>
<rect x="1055" y="462" width="1" height="31" fill="#000"/>
<rect x="1054" y="468" width="3" height="23" fill="#000"/>
<rect x="1055" y="469" width="1" height="21" fill="#FFA500"/>
<rect x="1059" y="459" width="1" height="31" fill="#000"/>
<rect x="1058" y="468" width="3" height="20" fill="#000"/>
<rect x="1063" y="472" width="1" height="17" fill="#000"/>
<rect x="1062" y="478" width="3" height="10" fill="#000"/>
<rect x="1063" y="479" width="1" height="8" fill="#FFA500"/>
<rect x="1067" y="473" width="1" height="15" fill="#000"/>
<rect x="1066" y="475" width="3" height="3" fill="#000"/>
<rect x="1067" y="476" width="1" height="1" fill="#FFA500"/>
<rect x="1071" y="471" width="1" height="39" fill="#000"/>
<rect x="1070" y="474" width="3" height="18" fill="#000"/>
<rect x="1075" y="462" width="1" height="37" fill="#000"/>
<rect x="1074" y="463" width="3" height="29" fill="#000"/>
<rect x="1075" y="464" width="1" height="27" fill="#FFA500"/>
<rect x="1079" y="453" width="1" height="23" fill="#000"/>
<rect x="1078" y="463" width="3" height="13" fill="#000"/>
<rect x="1083" y="467" width="1" height="25" fill="#000"/>
<rect x="1082" y="475" width="3" height="11" fill="#000"/>
<rect x="1087" y="472" width="1" height="21" fill="#000"/>
<rect x="1086" y="477" width="3" height="8" fill="#000"/>
<rect x="1087" y="478" width="1" height="6" fill="#FFA500"/>
<rect x="1091" y="455" width="1" height="25" fill="#000"/>
<rect x="1090" y="466" width="3" height="13" fill="#000"/>
<rect x="1091" y="467" width="1" height="11" fill="#FFA500"/>
<rect x="1095" y="458" width="1" height="46" fill="#000"/>
<rect x="1094" y="468" width="3" height="35" fill="#000"/>
<rect x="1099" y="477" width="1" height="27" fill="#000"/>
<rect x="1098" y="482" width="3" height="21" fill="#000"/>
<rect x="1099" y="483" width="1" height="19" fill="#FFA500"/>
<rect x="1103" y="437" width="1" height="47" fill="#000"/>
<rect x="1102" y="451" width="3" height="32" fill="#000"/>
<rect x="1103" y="452" width="1" height="30" fill="#FFA500"/>
<rect x="1107" y="450" width="1" height="15" fill="#000"/>
<rect x="1106" y="451" width="3" height="10" fill="#000"/>
<rect x="1111" y="458" width="1" height="12" fill="#000"/>
<rect x="1110" y="466" width="3" height="3" fill="#000"/>
<rect x="1115" y="462" width="1" height="26" fill="#000"/>
<rect x="1114" y="469" width="3" height="9" fill="#000"/>
<rect x="1119" y="464" width="1" height="20" fill="#000"/>
<rect x="1118" y="473" width="3" height="4" fill="#000"/>
<rect x="1119" y="474" width="1" height="2" fill="#FFA500"/>
<rect x="1123" y="451" width="1" height="42" fill="#000"/>
<rect x="1122" y="473" width="3" height="3" fill="#000"/>
<rect x="1127" y="469" width="1" height="18" fill="#000"/>
<rect x="1126" y="473" width="3" height="3" fill="#000"/>
<rect x="1127" y="474" width="1" height="1" fill="#FFA500"/>
<rect x="1131" y="465" width="1" height="18" fill="#000"/>
<rect x="1130" y="470" width="3" height="1" fill="#000"/>
<rect x="1135" y="455" width="1" height="27" fill="#000"/>
<rect x="1134" y="470" width="3" height="9" fill="#000"/>
<rect x="1139" y="461" width="1" height="32" fill="#000"/>
<rect x="1138" y="478" width="3" height="15" fill="#000"/>
<rect x="1143" y="479" width="1" height="22" fill="#000"/>
<rect x="1142" y="483" width="3" height="9" fill="#000"/>
<rect x="1143" y="484" width="1" height="7" fill="#FFA500"/>
<rect x="1147" y="477" width="1" height="35" fill="#000"/>
<rect x="1146" y="482" width="3" height="23" fill="#000"/>
<rect x="1151" y="494" width="1" height="13" fill="#000"/>
<rect x="1150" y="495" width="3" height="9" fill="#000"/>
<rect x="1151" y="496" width="1" height="7" fill="#FFA500"/>
<rect x="1155" y="488" width="1" height="45" fill="#000"/>
<rect x="1154" y="494" width="3" height="32" fill="#000"/>
<rect x="1159" y="517" width="1" height="43" fill="#000"/>
<rect x="1158" y="525" width="3" height="33" fill="#000"/>
<rect x="1163" y="533" width="1" height="33" fill="#000"/>
<rect x="1162" y="538" width="3" height="20" fill="#000"/>
<rect x="1163" y="539" width="1" height="18" fill="#FFA500"/>
<rect x="1167" y="528" width="1" height="20" fill="#000"/>
<rect x="1166" y="537" width="3" height="2" fill="#000"/>
<rect x="1171" y="532" width="1" height="14" fill="#000"/>
<rect x="1170" y="538" width="3" height="2" fill="#000"/>
<rect x="1175" y="531" width="1" height="15" fill="#000"/>
<rect x="1174" y="540" width="3" height="1" fill="#000"/>
<rect x="1179" y="513" width="1" height="29" fill="#000"/>
<rect x="1178" y="520" width="3" height="22" fill="#000"/>
<rect x="1179" y="521" width="1" height="20" fill="#FFA500"/>
<rect x="1183" y="496" width="1" height="24" fill="#000"/>
<rect x="1182" y="501" width="3" height="19" fill="#000"/>
<rect x="1183" y="502" width="1" height="17" fill="#FFA500"/>
<rect x="1187" y="489" width="1" height="25" fill="#000"/>
<rect x="1186" y="498" width="3" height="5" fill="#000"/>
<rect x="1187" y="499" width="1" height="3" fill="#FFA500"/>
<rect x="1191" y="494" width="1" height="19" fill="#000"/>
<rect x="1190" y="495" width="3" height="16" fill="#000"/>
<rect x="1195" y="502" width="1" height="22" fill="#000"/>
<rect x="1194" y="510" width="3" height="1" fill="#000"/>
<rect x="1199" y="507" width="1" height="39" fill="#000"/>
<rect x="1198" y="511" width="3" height="25" fill="#000"/>
<rect x="1203" y="488" width="1" height="49" fill="#000"/>
<rect x="1202" y="500" width="3" height="36" fill="#000"/>
<rect x="1203" y="501" width="1" height="34" fill="#FFA500"/>
<rect x="1207" y="478" width="1" height="26" fill="#000"/>
<rect x="1206" y="485" width="3" height="15" fill="#000"/>
<rect x="1207" y="486" width="1" height="13" fill="#FFA500"/>
<rect x="1211" y="483" width="1" height="11" fill="#000"/>
<rect x="1210" y="484" width="3" height="5" fill="#000"/>
<rect x="1215" y="483" width="1" height="19" fill="#000"/>
<rect x="1214" y="488" width="3" height="10" fill="#000"/>
<rect x="1219" y="493" width="1" height="25" fill="#000"/>
<rect x="1218" y="498" width="3" height="18" fill="#000"/>
<rect x="1223" y="509" width="1" height="15" fill="#000"/>
<rect x="1222" y="516" width="3" height="7" fill="#000"/>
<rect x="1227" y="501" width="1" height="29" fill="#000"/>
<rect x="1226" y="514" width="3" height="9" fill="#000"/>
<rect x="1227" y="515" width="1" height="7" fill="#FFA500"/>
<rect x="1231" y="510" width="1" height="23" fill="#000"/>
<rect x="1230" y="512" width="3" height="14" fill="#000"/>
<rect x="1235" y="523" width="1" height="22" fill="#000"/>
<rect x="1234" y="526" width="3" height="6" fill="#000"/>
<rect x="1239" y="522" width="1" height="26" fill="#000"/>
<rect x="1238" y="530" width="3" height="15" fill="#000"/>
<rect x="1243" y="523" width="1" height="25" fill="#000"/>
<rect x="1242" y="544" width="3" height="1" fill="#000"/>
<rect x="1247" y="542" width="1" height="28" fill="#000"/>
<rect x="1246" y="543" width="3" height="19" fill="#000"/>
<rect x="1251" y="569" width="1" height="16" fill="#000"/>
<rect x="1250" y="577" width="3" height="1" fill="#000"/>
</g>
<path fill="none" stroke="#0000CD" stroke-width="2" stroke-linejoin="round" stroke-linecap="butt" d="M477.8,711.8C481.6,708.8 492.0,701.2 500.4,693.8C508.9,686.5 519.3,676.8 528.5,667.7C537.7,658.6 546.7,649.9 555.8,639.3C564.9,628.7 576.6,612.3 583.1,604.2C589.6,596.0 589.2,597.2 594.8,590.5C600.3,583.8 608.4,573.4 616.2,564.0C624.0,554.6 632.3,544.5 641.5,534.0C650.8,523.5 662.5,510.6 671.6,500.9C680.7,491.1 687.5,484.0 696.1,475.5C704.8,467.1 714.2,458.4 723.4,450.2C732.6,441.9 738.7,436.0 751.5,426.0C764.2,416.0 790.2,397.1 800.0,390.3C809.8,383.5 807.2,386.7 810.4,385.1C813.7,383.5 816.2,381.8 819.4,380.6C822.6,379.4 825.9,378.6 829.9,377.6C833.8,376.6 839.1,375.7 843.3,374.6C847.5,373.5 850.5,372.1 855.2,370.9C860.0,369.7 866.9,368.3 871.6,367.2C876.4,366.0 879.1,365.2 883.6,364.2C888.1,363.2 893.5,362.3 898.5,361.2C903.5,360.1 910.0,358.6 913.4,357.5C916.9,356.3 915.9,355.5 919.4,354.5C922.9,353.5 930.1,352.1 934.3,351.5C938.6,350.9 941.0,350.8 944.8,350.7C948.5,350.7 953.5,350.8 956.7,351.0C960.0,351.2 960.4,351.8 964.2,351.9C967.9,352.1 974.9,352.0 979.1,351.8C983.3,351.6 983.4,351.1 989.6,350.7C995.7,350.4 1008.7,349.5 1015.8,349.9C1023.0,350.2 1024.2,352.2 1032.5,352.7C1040.9,353.2 1058.0,353.0 1066.0,352.7C1073.9,352.4 1072.7,351.6 1080.3,351.0C1087.9,350.4 1097.0,349.5 1111.3,349.1C1125.7,348.7 1153.9,349.1 1166.3,348.7C1178.6,348.3 1175.4,347.1 1185.4,346.7C1195.3,346.3 1218.4,346.5 1226.0,346.3C1233.5,346.0 1227.4,345.2 1230.7,345.1C1234.1,344.9 1242.8,345.0 1246.3,345.3C1249.8,345.6 1250.8,346.5 1251.8,346.7"/>
<path fill="none" stroke="#FF0000" stroke-width="3.2" stroke-linejoin="round" stroke-linecap="butt" d="M28.2,711.6C28.6,709.2 29.8,701.9 30.9,697.3C32.0,692.7 33.6,687.9 34.9,683.9C36.2,679.8 37.3,676.4 38.5,673.1C39.7,669.8 40.7,666.4 42.1,664.2C43.4,661.9 44.9,661.3 46.6,659.7C48.2,658.1 50.4,656.9 51.9,654.8C53.4,652.7 54.7,648.8 55.5,647.2C56.3,645.5 55.4,647.3 56.8,645.0C58.2,642.6 62.4,636.0 64.0,633.0C65.6,630.0 64.8,629.2 66.4,627.0C67.9,624.8 71.1,621.5 73.5,619.8C75.9,618.1 78.5,617.1 80.7,616.8C82.9,616.5 84.7,618.7 86.7,618.0C88.7,617.3 90.9,615.5 92.7,612.6C94.5,609.7 95.9,604.0 97.5,600.6C99.1,597.2 101.3,593.6 102.3,592.2C103.3,590.8 100.7,594.7 103.5,592.0C106.3,589.4 115.1,579.7 119.1,576.3C123.1,572.9 125.5,573.5 127.5,571.5C129.5,569.5 129.1,567.0 131.1,564.3C133.1,561.6 137.3,558.9 139.5,555.3C141.7,551.8 142.7,548.1 144.3,542.8C145.9,537.5 147.5,529.8 149.1,523.6C150.7,517.4 152.3,511.2 153.9,505.6C155.5,500.0 157.9,493.7 158.7,490.0C159.5,486.3 157.7,487.7 158.8,483.6C159.9,479.6 163.4,470.3 165.5,465.7C167.6,461.1 169.1,457.6 171.5,456.0C173.9,454.5 176.6,456.4 179.7,456.3C182.8,456.3 186.8,455.8 190.1,455.6C193.5,455.4 196.9,458.1 199.9,455.3C202.8,452.5 205.4,443.7 208.1,438.9C210.7,434.0 212.8,430.7 215.5,426.2C218.3,421.7 222.5,415.5 224.5,412.0C226.5,408.5 225.5,407.5 227.5,404.9C229.5,402.4 233.7,397.2 236.4,396.7C239.2,396.2 242.0,399.4 243.9,401.9C245.7,404.5 245.6,407.6 247.6,412.0C249.6,416.4 253.5,423.2 255.8,428.4C258.2,433.6 259.8,438.4 261.8,443.3C263.8,448.3 265.4,454.2 267.8,458.3C270.1,462.4 273.5,464.5 276.0,468.0C278.5,471.5 280.6,475.6 282.7,479.2C284.8,482.8 286.4,486.8 288.7,489.6C290.9,492.5 293.6,494.6 296.1,496.3C298.6,498.1 301.1,499.4 303.6,500.1C306.1,500.7 309.0,500.8 311.0,500.1C313.1,499.3 313.7,496.4 316.0,495.5C318.3,494.6 322.2,495.5 325.0,494.8C327.7,494.1 329.9,491.6 332.4,491.3C334.9,491.1 337.1,492.0 339.9,493.3C342.6,494.6 345.6,497.1 348.8,499.3C352.1,501.4 356.3,503.1 359.3,506.0C362.3,508.8 365.4,514.4 366.7,516.4C368.1,518.4 365.8,515.9 367.3,517.9C368.9,519.9 373.1,525.0 376.3,528.4C379.5,531.7 382.8,537.6 386.7,538.1C390.7,538.6 396.8,534.0 400.0,531.3C403.2,528.7 404.0,524.4 406.0,522.4C408.0,520.4 409.7,519.0 411.9,519.4C414.2,519.8 416.9,522.3 419.4,524.6C421.9,527.0 424.1,531.1 426.9,533.6C429.6,536.1 433.1,539.3 435.8,539.6C438.6,539.8 440.8,536.9 443.3,535.1C445.8,533.2 448.5,530.1 450.7,528.4C453.0,526.6 454.2,525.6 456.7,524.6C459.2,523.6 463.2,523.8 465.7,522.4C468.2,521.0 469.9,519.2 471.6,516.4C473.4,513.7 475.2,508.5 476.1,506.0C477.0,503.5 476.0,505.2 477.2,501.5C478.4,497.8 481.2,490.5 483.2,483.6C485.2,476.6 487.3,466.4 489.1,459.7C491.0,453.0 492.1,448.8 494.4,443.3C496.6,437.8 500.2,431.8 502.6,426.9C504.9,421.9 506.8,417.7 508.5,413.4C510.3,409.2 511.5,406.3 513.0,401.5C514.5,396.7 515.6,390.0 517.6,384.5C519.6,378.9 523.1,373.5 525.1,368.1C527.1,362.6 527.8,358.4 529.6,351.6C531.3,344.9 533.3,336.2 535.5,327.8C537.8,319.3 540.5,308.9 543.0,300.9C545.5,292.9 548.7,285.1 550.4,280.0C552.2,274.9 551.4,274.3 553.4,270.4C555.4,266.6 559.9,261.2 562.4,257.0C564.9,252.8 566.6,249.1 568.4,245.1C570.1,241.1 571.3,236.5 572.8,233.1C574.3,229.8 575.6,227.0 577.3,224.9C579.1,222.8 581.0,220.6 583.3,220.4C585.5,220.3 588.3,223.5 590.7,224.2C593.2,224.9 596.0,224.6 598.2,224.5C600.4,224.4 602.2,222.9 604.2,223.4C606.2,224.0 608.2,226.8 610.1,227.9C612.1,229.0 614.1,230.2 616.1,229.9C618.1,229.5 619.9,227.9 622.1,225.7C624.3,223.5 627.3,219.0 629.6,216.7C631.8,214.5 633.7,213.3 635.5,212.2C637.3,211.2 638.8,212.2 640.3,210.4C641.8,208.7 643.3,205.2 644.8,201.5C646.3,197.8 647.8,192.0 649.3,188.1C650.7,184.1 651.5,181.0 653.7,177.6C656.0,174.3 660.0,169.6 662.7,167.9C665.4,166.2 668.2,166.8 670.1,167.5C672.1,168.1 673.1,169.5 674.6,171.6C676.1,173.8 677.6,177.6 679.1,180.6C680.6,183.6 681.3,186.6 683.6,189.6C685.8,192.5 688.8,193.8 692.5,198.5C696.3,203.3 702.5,213.9 706.3,218.1C710.0,222.2 712.0,222.4 715.2,223.3C718.5,224.2 722.9,223.5 725.7,223.3C728.4,223.1 729.4,222.1 731.6,222.2C733.9,222.4 736.9,224.2 739.1,224.0C741.3,223.8 743.1,222.7 745.1,221.0C747.1,219.4 749.1,215.9 751.0,214.3C753.0,212.7 754.8,211.6 757.0,211.3C759.3,211.1 762.0,212.8 764.5,212.8C767.0,212.8 769.5,212.8 771.9,211.3C774.4,209.9 776.9,205.9 779.4,203.9C781.9,201.9 784.9,200.3 786.9,199.4C788.9,198.5 789.6,198.5 791.3,198.7C793.1,198.8 795.3,199.4 797.3,200.1C799.3,200.9 801.3,201.6 803.3,203.1C805.3,204.6 807.3,206.9 809.3,209.1C811.2,211.3 813.5,213.8 815.2,216.6C817.0,219.3 818.2,221.8 819.7,225.5C821.2,229.3 822.7,234.8 824.2,239.0C825.7,243.1 826.8,246.1 828.7,250.4C830.5,254.6 832.9,259.8 835.4,264.6C837.9,269.3 841.5,274.6 843.6,278.7C845.7,282.8 846.3,285.4 848.1,289.2C849.8,292.9 850.8,295.0 854.0,301.1C857.2,307.3 863.7,320.0 867.2,326.1C870.6,332.3 872.4,335.2 874.6,338.1C876.9,340.9 878.4,341.4 880.6,343.3C882.8,345.1 885.6,347.1 888.1,349.3C890.5,351.4 893.5,355.3 895.5,356.4C897.5,357.5 898.0,356.8 900.0,356.0C902.0,355.1 904.7,352.9 907.5,351.5C910.2,350.1 913.7,348.9 916.4,347.8C919.2,346.6 921.6,346.0 923.9,344.8C926.1,343.6 927.9,341.4 929.9,340.6C931.8,339.8 934.1,340.2 935.8,340.0C937.6,339.8 938.8,339.0 940.3,339.6C941.8,340.1 943.3,341.8 944.8,343.3C946.3,344.8 947.5,346.0 949.3,348.5C951.0,351.0 953.5,355.3 955.2,358.2C957.0,361.1 958.2,363.2 959.7,365.7C961.2,368.2 962.2,370.6 964.2,373.1C966.2,375.6 969.2,379.5 971.6,380.6C974.1,381.7 974.9,379.8 979.1,379.9C983.3,380.0 992.3,379.7 996.7,381.2C1001.1,382.7 1002.2,386.8 1005.7,389.0C1009.2,391.1 1013.6,391.7 1017.6,394.2C1021.6,396.7 1026.3,400.5 1029.6,403.9C1032.8,407.2 1034.5,410.1 1037.0,414.3C1039.5,418.6 1042.2,425.3 1044.5,429.3C1046.7,433.2 1048.0,435.5 1050.4,438.2C1052.9,440.9 1055.9,442.6 1059.4,445.7C1062.9,448.8 1067.9,454.6 1071.3,456.9C1074.8,459.1 1077.1,458.0 1080.3,459.1C1083.5,460.2 1087.8,461.8 1090.7,463.3C1093.7,464.8 1095.5,467.6 1098.2,468.1C1100.9,468.6 1103.7,466.4 1107.2,466.3C1110.6,466.1 1115.6,466.8 1119.1,467.3C1122.6,467.9 1124.7,468.9 1128.1,469.6C1131.4,470.2 1136.0,470.2 1139.4,471.2C1142.8,472.1 1145.4,473.2 1148.4,475.2C1151.3,477.3 1154.8,480.6 1157.3,483.4C1159.8,486.3 1161.0,489.5 1163.3,492.4C1165.5,495.2 1168.3,498.4 1170.7,500.6C1173.2,502.8 1175.7,504.9 1178.2,505.8C1180.7,506.7 1183.9,506.2 1185.7,506.1C1187.5,506.0 1187.4,505.0 1189.0,505.1C1190.5,505.1 1192.9,505.9 1194.9,506.6C1196.9,507.2 1198.7,508.8 1200.9,508.8C1203.1,508.8 1205.9,507.3 1208.4,506.6C1210.8,505.9 1213.1,504.8 1215.8,504.6C1218.6,504.5 1221.8,504.8 1224.8,505.5C1227.8,506.3 1230.7,507.4 1233.7,509.1C1236.7,510.8 1240.2,513.5 1242.7,515.5C1245.2,517.6 1247.0,519.8 1248.7,521.5C1250.3,523.2 1251.8,524.9 1252.4,525.5"/>
<rect x="3" y="39" width="1294" height="1" fill="#DC143C" shape-rendering="crispEdges"/>
<rect x="3" y="231" width="1294" height="1" fill="#DC143C" shape-rendering="crispEdges"/>
<rect x="3" y="363" width="1294" height="1" fill="#DC143C" shape-rendering="crispEdges"/>
<rect x="3" y="564" width="1294" height="1" fill="#DC143C" shape-rendering="crispEdges"/>
<rect x="3" y="591" width="1294" height="1" fill="#4682B4" shape-rendering="crispEdges"/>
<line x1="3" y1="664.5" x2="1044" y2="41" stroke="#FF0000" stroke-width="1" stroke-dasharray="3 4" shape-rendering="crispEdges"/>
<text x="1296" y="37" text-anchor="end" style="fill:#DC143C;stroke:none;font-size:9px">0.0</text>
<text x="1296" y="361" text-anchor="end" style="fill:#DC143C;stroke:none;font-size:9px">23.6</text>
<text x="1296" y="562" text-anchor="end" style="fill:#DC143C;stroke:none;font-size:9px">38.2</text>
</g>
<g clip-path="url(#cs)">
<line x1="3" y1="726.5" x2="1297" y2="726.5" stroke="#C0C0C0" stroke-width="1" stroke-dasharray="3 3" shape-rendering="crispEdges"/>
<line x1="3" y1="759.5" x2="1297" y2="759.5" stroke="#C0C0C0" stroke-width="1" stroke-dasharray="3 3" shape-rendering="crispEdges"/>
<polyline fill="none" stroke="#FF0000" stroke-width="1" stroke-linejoin="round" stroke-linecap="round" points="2.4,720.1 10.1,719.7 20.1,720.5 30.2,722.1 40.3,723.1 48.4,729.1 56.4,734.2 62.5,742.2 69.5,745.2 76.6,746.7 84.6,746.7 92.7,746.3 100.7,743.2 108.8,739.2 116.9,732.6 124.9,732.1 133.0,735.2 143.1,735.8 151.1,729.1 159.2,723.1 165.2,719.7 172.3,719.7 179.3,726.1 187.4,736.2 193.4,747.3 199.5,756.3 203.5,759.4 209.6,757.3 215.6,751.3 221.6,740.2 227.7,732.1 235.7,726.1 240.8,724.5 244.8,728.1 251.9,742.2 259.9,756.3 266.0,764.8 270.0,769.0 276.0,769.4 282.1,766.8 288.1,764.8 294.2,759.4 300.2,752.3 308.3,742.2 316.3,733.2 323.4,727.1 330.4,724.1 338.5,725.1 344.6,731.1 350.6,739.2 356.6,748.3 361.7,756.3 366.7,763.4 372.8,766.8 379.8,769.0 386.9,766.8 392.9,761.4 399.0,752.3 405.0,740.2 411.0,730.1 417.1,724.5 422.1,726.5 427.2,733.2 433.2,744.2 439.3,753.3 444.3,757.9 449.3,756.3 455.4,750.3 461.4,740.2 467.5,732.1 473.5,727.1 481.6,723.7 489.6,721.7 497.7,719.1 507.8,718.6 519.8,720.5 529.9,720.1 540.0,719.1 548.1,719.1 556.1,719.7 562.2,721.1 568.2,726.1 576.3,732.1 584.3,737.8 592.4,745.2 600.4,753.3 608.5,758.7 615.6,761.4 622.6,759.4 628.7,753.3 634.7,743.2 640.7,735.2 648.8,726.1 656.9,723.7 661.9,723.7 669.0,728.1 675.0,734.2 681.0,744.2 689.1,755.3 697.2,762.4 703.2,764.8 709.3,763.4 717.3,759.4 723.4,750.3 729.4,741.2 735.4,733.2 741.5,729.1 749.6,727.1 757.6,730.1 765.7,734.2 773.7,739.2 781.8,742.2 789.8,741.8 796.9,739.2 804.0,741.2 810.0,748.3 816.0,757.3 822.1,764.4 830.1,768.4 836.2,770.0 844.3,768.8 852.3,766.8 860.4,765.4 868.4,765.4 878.5,764.0 886.6,757.3 894.6,749.3 901.7,739.2 908.7,729.1 914.8,723.7 920.8,721.1 928.9,720.5 936.9,721.1 943.0,723.1 949.0,731.1 954.1,742.2 960.1,755.3 966.2,764.4 971.2,768.4 977.2,766.4 983.3,761.4 989.3,752.3 996.4,743.2 1002.4,737.2 1009.5,737.8 1015.5,742.2 1021.6,749.3 1027.6,753.3 1033.7,755.3 1041.7,760.4 1049.8,765.4 1057.8,766.8 1064.9,764.0 1071.9,757.3 1078.1,749.3 1086.1,740.2 1092.2,737.2 1100.2,738.2 1108.3,738.2 1116.3,738.6 1122.4,735.8 1128.4,735.2 1134.5,737.2 1140.5,742.2 1148.6,751.3 1156.6,758.3 1163.7,762.4 1170.7,764.0 1176.8,764.4 1182.8,761.4 1188.9,754.3 1194.9,746.3 1201.0,740.2 1209.0,733.2 1216.1,729.7 1223.1,729.7 1229.2,731.1 1235.2,738.2 1243.3,748.3 1250.3,758.3" stroke-dasharray="3 3.5" shape-rendering="crispEdges"/>
<polyline fill="none" stroke="#20B2AA" stroke-width="1" stroke-linejoin="round" stroke-linecap="round" points="2.4,715.6 8.1,717.6 14.1,722.1 20.1,723.1 27.2,727.7 32.2,723.1 40.3,724.1 44.3,729.1 52.4,740.2 59.4,747.9 63.5,750.3 69.5,745.9 75.6,742.6 79.6,745.9 84.6,749.7 91.7,748.3 95.7,740.2 100.7,735.2 104.8,733.2 109.8,729.1 113.8,728.5 118.9,732.1 123.9,738.2 131.0,735.2 139.0,737.2 142.1,732.1 149.1,720.1 155.1,717.4 161.2,717.4 167.2,720.1 172.3,725.1 177.3,734.2 183.4,745.2 189.4,757.3 195.4,767.4 200.5,764.0 205.5,753.3 211.6,740.2 217.6,730.1 223.7,721.5 228.7,721.5 233.7,724.1 237.8,726.1 241.8,732.1 245.8,744.2 250.9,762.4 255.9,769.4 261.9,770.4 270.0,767.4 276.0,764.4 282.1,762.0 288.1,760.0 295.2,744.2 300.2,742.6 304.3,739.2 310.3,726.1 314.3,722.5 319.4,721.1 324.4,723.1 329.4,723.5 334.5,727.1 339.5,736.2 344.6,745.2 348.6,750.3 355.6,764.8 360.7,767.4 367.7,770.4 374.8,769.4 379.8,769.0 383.8,767.4 388.9,756.3 394.9,742.2 401.0,724.1 407.6,716.0 411.0,720.1 416.1,728.1 423.1,744.2 431.2,760.4 435.6,765.4 439.3,763.4 445.3,752.3 453.4,734.2 459.4,724.5 463.4,723.1 468.5,726.1 473.5,724.1 479.6,722.1 485.6,719.1 490.6,716.0 495.7,716.4 501.7,719.1 507.8,720.1 515.8,721.1 521.9,721.1 527.9,718.6 534.0,718.4 540.0,719.1 547.1,717.4 554.1,721.1 560.1,726.1 567.2,734.2 574.3,737.2 580.3,738.6 586.3,744.2 592.4,753.3 599.4,762.4 606.5,764.4 610.5,764.4 616.6,757.9 622.6,748.3 628.7,736.2 635.7,723.7 638.7,724.1 643.8,722.1 648.8,722.1 654.8,723.7 660.9,725.7 665.9,734.2 671.0,742.2 677.0,754.3 683.1,762.4 691.1,763.4 697.2,766.4 701.2,765.4 707.2,760.4 713.3,755.3 719.3,745.2 724.4,730.1 727.4,724.5 733.4,725.7 739.5,728.1 743.5,730.5 747.5,728.5 751.6,732.1 756.6,732.6 763.7,739.2 771.7,747.3 777.8,743.8 784.8,737.2 790.9,734.2 794.9,737.2 799.9,744.2 806.0,755.3 810.0,764.4 814.0,768.4 820.1,770.4 828.1,770.4 835.2,768.0 842.2,766.8 850.3,764.8 856.3,764.8 863.4,766.0 870.4,764.4 876.5,762.8 880.5,758.3 886.6,747.3 892.6,739.2 898.7,728.1 903.7,721.1 908.7,720.1 914.8,721.1 919.8,719.5 925.9,720.1 930.9,721.1 935.9,724.5 940.0,726.1 944.0,736.2 948.0,750.3 952.1,764.4 956.1,770.4 963.1,770.4 969.2,768.8 974.2,764.4 980.3,753.3 987.3,740.2 992.3,732.1 995.8,728.5 1000.4,736.2 1007.5,748.3 1013.5,751.3 1019.6,754.3 1023.6,757.3 1027.6,755.3 1031.6,757.9 1037.7,764.8 1043.7,770.0 1051.8,768.4 1055.8,763.4 1061.9,759.4 1067.9,751.3 1070.0,746.3 1076.0,737.8 1084.1,733.2 1092.2,734.2 1100.2,745.2 1105.3,738.2 1110.3,734.2 1115.3,738.2 1120.4,733.2 1124.4,733.2 1130.4,739.2 1138.5,748.3 1144.6,753.3 1150.6,760.4 1155.6,766.0 1158.7,767.4 1164.7,764.0 1170.7,762.4 1175.8,762.4 1179.8,757.3 1185.9,744.2 1190.9,737.2 1195.9,732.1 1201.0,730.1 1206.0,727.1 1215.1,728.5 1220.1,731.1 1225.1,731.5 1231.2,744.2 1238.2,758.3 1243.3,763.4 1247.3,765.4 1250.7,768.8"/>
</g>
<g clip-path="url(#cr)">
<line x1="3" y1="792.5" x2="1297" y2="792.5" stroke="#B0C4DE" stroke-width="1" stroke-dasharray="3 3" shape-rendering="crispEdges"/>
<line x1="3" y1="815.5" x2="1297" y2="815.5" stroke="#B0C4DE" stroke-width="1" stroke-dasharray="3 3" shape-rendering="crispEdges"/>
<polyline fill="none" stroke="#8B4513" stroke-width="1" stroke-linejoin="round" stroke-linecap="round" points="3.0,781.5 10.0,787.5 16.2,792.5 23.8,789.0 30.0,785.8 37.5,790.0 43.8,794.0 48.8,797.5 56.2,795.8 66.2,793.2 72.5,797.0 78.8,799.0 83.8,803.2 88.8,799.5 95.0,794.5 100.0,795.8 106.2,799.0 115.0,798.2 122.5,799.0 130.0,796.5 136.2,797.8 141.2,795.0 147.5,789.5 153.8,789.0 158.8,787.5 163.8,790.8 170.0,792.5 176.2,800.0 182.5,802.0 190.0,801.5 198.8,801.5 206.2,795.0 212.5,794.5 220.0,796.5 227.0,793.2 231.2,797.0 236.2,799.0 241.2,804.0 247.5,810.0 252.5,810.8 257.5,812.0 265.0,813.8 275.0,809.5 282.5,811.5 287.5,812.0 295.0,808.2 302.5,807.5 308.8,804.5 311.2,805.0 316.2,801.5 320.0,802.0 323.8,804.5 331.2,802.0 335.0,805.0 341.2,805.2 350.0,809.5 358.8,809.5 363.8,813.2 372.5,813.2 377.5,815.0 383.8,813.2 388.8,805.8 395.0,800.8 398.8,800.8 403.8,796.2 407.5,796.5 412.5,802.5 420.0,809.5 425.0,810.8 431.2,811.2 437.5,805.8 442.5,799.5 451.2,798.2 457.5,800.8 463.8,802.5 467.5,800.8 472.5,793.2 477.5,789.5 482.5,788.8 488.8,786.5 495.0,787.5 499.5,792.0 505.0,790.0 511.2,787.5 517.5,787.5 522.5,788.5 531.2,784.0 540.0,783.2 547.0,782.5 552.5,787.0 557.5,791.5 561.2,792.5 566.2,790.8 571.2,788.2 575.0,788.5 581.2,794.5 586.2,801.5 590.0,803.2 596.2,801.2 603.8,800.8 607.5,803.2 611.2,807.5 616.2,803.2 621.2,800.8 626.2,796.5 631.2,798.2 636.2,799.0 639.5,801.2 643.8,795.0 647.5,792.5 652.5,795.8 656.2,797.5 660.0,797.8 665.0,800.8 670.0,802.0 676.2,808.2 682.5,810.2 690.0,806.5 698.8,810.8 703.8,806.2 711.2,807.0 721.2,803.2 728.8,803.5 735.0,805.2 743.8,802.0 750.5,797.8 756.2,801.5 763.8,806.2 772.5,800.8 778.8,797.0 783.8,801.2 790.0,801.5 796.2,805.0 802.5,805.2 810.0,809.5 817.5,814.0 822.5,817.5 827.5,817.5 832.5,815.2 840.0,814.5 847.5,817.5 855.0,816.2 862.5,817.5 868.8,814.0 872.0,816.5 880.0,812.0 887.5,810.2 892.5,810.2 895.8,812.5 903.8,803.8 910.0,802.5 916.2,802.5 920.0,803.2 925.0,800.8 931.2,800.2 936.2,804.5 940.0,804.5 947.5,813.2 953.8,815.0 960.0,816.5 966.2,815.0 971.2,812.5 976.2,804.5 980.0,803.2 987.5,805.2 997.5,807.8 1005.0,811.5 1007.5,812.0 1011.2,808.2 1016.2,808.5 1022.5,812.0 1028.8,812.5 1036.2,817.5 1042.5,819.5 1050.0,817.0 1055.0,811.2 1061.2,812.0 1068.8,812.0 1072.0,814.5 1076.2,809.0 1080.0,808.2 1085.0,810.2 1088.8,809.5 1091.2,806.5 1095.5,810.2 1099.5,810.0 1103.8,803.2 1110.0,804.5 1116.2,807.0 1122.5,806.5 1127.5,807.5 1133.8,806.2 1140.0,808.2 1147.5,810.8 1153.8,813.8 1160.0,819.5 1163.8,819.5 1168.8,816.5 1176.2,816.5 1180.0,811.5 1183.8,806.5 1187.5,804.5 1193.8,806.5 1200.0,810.8 1206.2,802.5 1210.0,801.2 1215.0,802.5 1223.8,807.5 1227.5,806.5 1237.5,810.8 1243.8,811.5 1251.2,817.0"/>
</g>
<g shape-rendering="crispEdges" fill="#000">
<rect x="2" y="2" width="1296" height="1"/>
<rect x="2" y="2" width="1" height="832"/>
<rect x="1297" y="2" width="1" height="832"/>
<rect x="2" y="712" width="1296" height="1"/>
<rect x="2" y="714" width="1296" height="1"/>
<rect x="2" y="771" width="1296" height="1"/>
<rect x="2" y="773" width="1296" height="1"/>
<rect x="2" y="833" width="1296" height="1"/>
<rect x="2" y="713" width="1296" height="1" fill="#FFFFF0"/>
<rect x="2" y="772" width="1296" height="1" fill="#FFFFF0"/>
</g>
<g shape-rendering="crispEdges" fill="#000">
<rect x="1298" y="16" width="2" height="1"/>
<rect x="1298" y="49" width="2" height="1"/>
<rect x="1298" y="82" width="2" height="1"/>
<rect x="1298" y="115" width="2" height="1"/>
<rect x="1298" y="148" width="2" height="1"/>
<rect x="1298" y="181" width="2" height="1"/>
<rect x="1298" y="214" width="2" height="1"/>
<rect x="1298" y="247" width="2" height="1"/>
<rect x="1298" y="280" width="2" height="1"/>
<rect x="1298" y="313" width="2" height="1"/>
<rect x="1298" y="346" width="2" height="1"/>
<rect x="1298" y="379" width="2" height="1"/>
<rect x="1298" y="412" width="2" height="1"/>
<rect x="1298" y="445" width="2" height="1"/>
<rect x="1298" y="478" width="2" height="1"/>
<rect x="1298" y="511" width="2" height="1"/>
<rect x="1298" y="544" width="2" height="1"/>
<rect x="1298" y="610" width="2" height="1"/>
<rect x="1298" y="643" width="2" height="1"/>
<rect x="1298" y="676" width="2" height="1"/>
<rect x="1298" y="709" width="2" height="1"/>
<rect x="1298" y="716" width="1" height="1"/>
<rect x="1298" y="726" width="1" height="1"/>
<rect x="1298" y="759" width="1" height="1"/>
<rect x="1298" y="770" width="1" height="1"/>
<rect x="1298" y="775" width="1" height="1"/>
<rect x="1298" y="792" width="1" height="1"/>
<rect x="1298" y="815" width="1" height="1"/>
<rect x="1298" y="831" width="1" height="1"/>
</g>
<text transform="translate(1303.5,19) scale(1,1)" textLength="32.7" lengthAdjust="spacingAndGlyphs">1.58950</text>
<text transform="translate(1303.5,52) scale(1,1)" textLength="32.7" lengthAdjust="spacingAndGlyphs">1.57930</text>
<text transform="translate(1303.5,85) scale(1,1)" textLength="32.7" lengthAdjust="spacingAndGlyphs">1.56910</text>
<text transform="translate(1303.5,118) scale(1,1)" textLength="32.7" lengthAdjust="spacingAndGlyphs">1.55890</text>
<text transform="translate(1303.5,151) scale(1,1)" textLength="32.7" lengthAdjust="spacingAndGlyphs">1.54870</text>
<text transform="translate(1303.5,184) scale(1,1)" textLength="32.7" lengthAdjust="spacingAndGlyphs">1.53880</text>
<text transform="translate(1303.5,217) scale(1,1)" textLength="32.7" lengthAdjust="spacingAndGlyphs">1.52860</text>
<text transform="translate(1303.5,250) scale(1,1)" textLength="32.7" lengthAdjust="spacingAndGlyphs">1.51840</text>
<text transform="translate(1303.5,283) scale(1,1)" textLength="32.7" lengthAdjust="spacingAndGlyphs">1.50820</text>
<text transform="translate(1303.5,316) scale(1,1)" textLength="32.7" lengthAdjust="spacingAndGlyphs">1.49830</text>
<text transform="translate(1303.5,349) scale(1,1)" textLength="32.7" lengthAdjust="spacingAndGlyphs">1.48810</text>
<text transform="translate(1303.5,382) scale(1,1)" textLength="32.7" lengthAdjust="spacingAndGlyphs">1.47790</text>
<text transform="translate(1303.5,415) scale(1,1)" textLength="32.7" lengthAdjust="spacingAndGlyphs">1.46770</text>
<text transform="translate(1303.5,448) scale(1,1)" textLength="32.7" lengthAdjust="spacingAndGlyphs">1.45780</text>
<text transform="translate(1303.5,481) scale(1,1)" textLength="32.7" lengthAdjust="spacingAndGlyphs">1.44760</text>
<text transform="translate(1303.5,514) scale(1,1)" textLength="32.7" lengthAdjust="spacingAndGlyphs">1.43740</text>
<text transform="translate(1303.5,547) scale(1,1)" textLength="32.7" lengthAdjust="spacingAndGlyphs">1.42720</text>
<text transform="translate(1303.5,613) scale(1,1)" textLength="32.7" lengthAdjust="spacingAndGlyphs">1.40710</text>
<text transform="translate(1303.5,646) scale(1,1)" textLength="32.7" lengthAdjust="spacingAndGlyphs">1.39690</text>
<text transform="translate(1303.5,679) scale(1,1)" textLength="32.7" lengthAdjust="spacingAndGlyphs">1.38670</text>
<text transform="translate(1303.5,712) scale(1,1)" textLength="32.7" lengthAdjust="spacingAndGlyphs">1.37680</text>
<rect x="1299" y="571" width="41" height="11" fill="#000" shape-rendering="crispEdges"/>
<text transform="translate(1303.5,580) scale(1,1)" textLength="32.7" lengthAdjust="spacingAndGlyphs" style="fill:#fff;stroke:#fff">1.41705</text>
<rect x="1299" y="585" width="41" height="11" fill="#4682B4" shape-rendering="crispEdges"/>
<text transform="translate(1303.5,594) scale(1,1)" textLength="32.7" lengthAdjust="spacingAndGlyphs" style="fill:#fff;stroke:#fff">1.41276</text>
<text transform="translate(1301,725) scale(0.947,1)">100</text>
<text transform="translate(1301,729.2) scale(0.947,1)">80</text>
<text transform="translate(1301,761.6) scale(0.947,1)">20</text>
<text transform="translate(1301,767.6) scale(0.947,1)">0</text>
<text transform="translate(1301,784) scale(0.947,1)">100</text>
<text transform="translate(1301,794.8) scale(0.947,1)">70</text>
<text transform="translate(1301,817.8) scale(0.947,1)">30</text>
<text transform="translate(1301,829) scale(0.947,1)">0</text>
<path d="M5.7 9.2H13.4L9.55 13.4Z" fill="#000"/>
<text transform="translate(18.5,13.6) scale(1,1)" textLength="63.5" lengthAdjust="spacingAndGlyphs">EURAUD,Daily</text>
<text transform="translate(89.2,13.6) scale(1,1)" textLength="140" lengthAdjust="spacingAndGlyphs">1.41706 1.41973 1.41480 1.41705</text>
<text transform="translate(7.3,727) scale(0.946,1)">Stoch(9,6,6) 2.6692 21.4801</text>
<text transform="translate(7.3,785) scale(0.946,1)">RSI(14) 27.3659</text>
<text transform="translate(7.3,828.8) scale(1,1)" textLength="299" lengthAdjust="spacingAndGlyphs">FXDD Malta - MetaTrader 4, © 2001-2014, MetaQuotes Software Corp.</text>
<g shape-rendering="crispEdges" fill="#000">
<rect x="3" y="834" width="1" height="3"/>
<rect x="67" y="834" width="1" height="3"/>
<rect x="131" y="834" width="1" height="3"/>
<rect x="195" y="834" width="1" height="3"/>
<rect x="259" y="834" width="1" height="3"/>
<rect x="323" y="834" width="1" height="3"/>
<rect x="387" y="834" width="1" height="3"/>
<rect x="451" y="834" width="1" height="3"/>
<rect x="515" y="834" width="1" height="3"/>
<rect x="579" y="834" width="1" height="3"/>
<rect x="643" y="834" width="1" height="3"/>
<rect x="707" y="834" width="1" height="3"/>
<rect x="771" y="834" width="1" height="3"/>
<rect x="835" y="834" width="1" height="3"/>
<rect x="899" y="834" width="1" height="3"/>
<rect x="963" y="834" width="1" height="3"/>
<rect x="1027" y="834" width="1" height="3"/>
<rect x="1091" y="834" width="1" height="3"/>
<rect x="1155" y="834" width="1" height="3"/>
<rect x="1219" y="834" width="1" height="3"/>
</g>
<text transform="translate(2.4,846.1) scale(0.9325,1)">11 Jun 2013</text>
<text transform="translate(66.4,846.1) scale(0.9325,1)">3 Jul 2013</text>
<text transform="translate(130.4,846.1) scale(0.9325,1)">25 Jul 2013</text>
<text transform="translate(194.4,846.1) scale(0.9325,1)">16 Aug 2013</text>
<text transform="translate(258.4,846.1) scale(0.9325,1)">9 Sep 2013</text>
<text transform="translate(322.4,846.1) scale(0.9325,1)">1 Oct 2013</text>
<text transform="translate(386.4,846.1) scale(0.9325,1)">23 Oct 2013</text>
<text transform="translate(450.4,846.1) scale(0.9325,1)">14 Nov 2013</text>
<text transform="translate(514.4,846.1) scale(0.9325,1)">6 Dec 2013</text>
<text transform="translate(578.4,846.1) scale(0.9325,1)">31 Dec 2013</text>
<text transform="translate(642.4,846.1) scale(0.9325,1)">23 Jan 2014</text>
<text transform="translate(706.4,846.1) scale(0.9325,1)">14 Feb 2014</text>
<text transform="translate(770.4,846.1) scale(0.9325,1)">10 Mar 2014</text>
<text transform="translate(834.4,846.1) scale(0.9325,1)">1 Apr 2014</text>
<text transform="translate(898.4,846.1) scale(0.9325,1)">23 Apr 2014</text>
<text transform="translate(962.4,846.1) scale(0.9325,1)">15 May 2014</text>
<text transform="translate(1026.4,846.1) scale(0.9325,1)">6 Jun 2014</text>
<text transform="translate(1090.4,846.1) scale(0.9325,1)">30 Jun 2014</text>
<text transform="translate(1154.4,846.1) scale(0.9325,1)">22 Jul 2014</text>
<text transform="translate(1218.4,846.1) scale(0.9325,1)">13 Aug 2014</text>
</svg></body></html>
